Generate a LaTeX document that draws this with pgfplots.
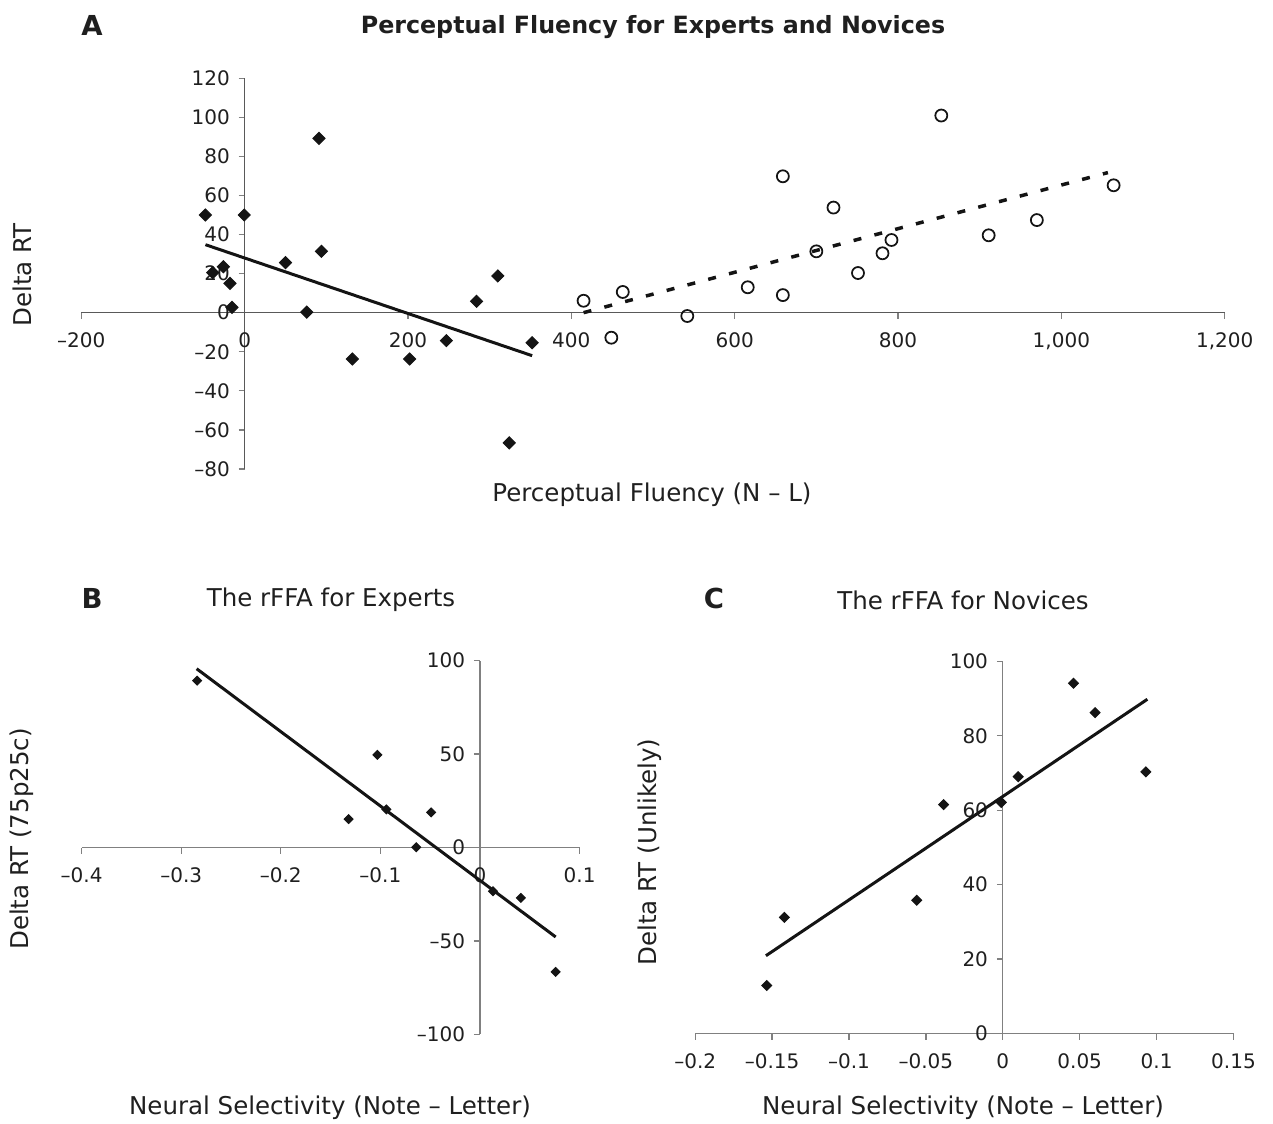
\documentclass[border=0pt]{standalone}
\usepackage{fontspec}
\setmainfont{DejaVu Sans}
\usepackage{pgfplots}
\pgfplotsset{compat=1.18}
\pgfplotsset{
  myaxis/.style={
    scale only axis, axis lines=middle,
    axis line style={-, draw=black!50, line width=0.5pt},
    enlargelimits=false, clip=false,
    tick align=outside, major tick length=2.4pt,
    tick style={draw=black!50, line width=0.5pt},
    hide obscured x ticks=false, hide obscured y ticks=false,
    tick label style={font=\fontsize{8}{9.6}\selectfont, text=black!88},
    xticklabel style={yshift=-2pt},
    anchor=south west,
  },
  expd/.style={only marks, mark=square*, mark size=#1,
    mark options={rotate=45, fill=black!92, draw=black!92}},
  trend/.style={no marks, black!92, line width=1.2pt},
}
\begin{document}
\begin{tikzpicture}[font=\fontsize{9.8}{11.8}\selectfont, text=black!88]
\path[use as bounding box] (0,0) rectangle (509.2pt,-449.6pt);

% ---------- Panel A ----------
\begin{axis}[myaxis, at={(32.52pt,-187.6pt)}, width=457.36pt, height=156.32pt,
  axis line style={-, draw=black!65, line width=0.5pt},
  xmin=-200, xmax=1200, ymin=-80, ymax=120,
  xtick={-200,0,200,400,600,800,1000,1200},
  xticklabels={–200,0,200,400,600,800,{1,000},{1,200}},
  ytick={-80,-60,-40,-20,0,20,40,60,80,100,120},
  yticklabels={–80,–60,–40,–20,0,20,40,60,80,100,120}]
\addplot[expd=1.7pt] coordinates {
(-48,50) (-39,20.5) (-26,23.5) (-18,15) (-15.5,2.7) (-0.5,50) (50,25.6)
(76,0.3) (91,89.2) (94,31.4) (132,-23.7) (202,-23.7) (247,-14.3) (284,5.8)
(310,18.8) (324,-66.6) (352,-15.4)};
\addplot[only marks, mark=o, mark size=2.4pt, mark options={draw=black!92, line width=0.7pt}] coordinates {
(415,6.1) (449,-12.8) (463,10.6) (542,-1.7) (616,13.0) (659,69.8) (659,9.0)
(700,31.4) (721,53.8) (751,20.3) (781,30.4) (792,37.2) (853,100.9) (911,39.6)
(970,47.4) (1064,65.2)};
\addplot[trend] coordinates {(-48,34.8) (352,-22.0)};
\addplot[trend, line width=1.4pt, dash pattern=on 3.2pt off 5.4pt] coordinates {(415,0) (1057,71.7)};
\end{axis}

% ---------- Panel B ----------
\begin{axis}[myaxis, at={(32.64pt,-413.72pt)}, width=199.2pt, height=149.44pt,
  xmin=-0.4, xmax=0.1, ymin=-100, ymax=100,
  xtick={-0.4,-0.3,-0.2,-0.1,0,0.1},
  xticklabels={–0.4,–0.3,–0.2,–0.1,0,0.1},
  ytick={-100,-50,0,50,100},
  yticklabels={–100,–50,0,50,100}]
\addplot[expd=1.25pt] coordinates {
(-0.284,89.3) (-0.132,15.2) (-0.103,49.6) (-0.094,20.4) (-0.064,0.2)
(-0.049,18.8) (0.013,-23.4) (0.041,-27.0) (0.076,-66.6)};
\addplot[trend] coordinates {(-0.2845,95.7) (0.076,-47.9)};
\end{axis}

% ---------- Panel C ----------
\begin{axis}[myaxis, at={(278.08pt,-413.4pt)}, width=215.32pt, height=148.88pt,
  xmin=-0.2, xmax=0.15, ymin=0, ymax=100,
  xtick={-0.2,-0.15,-0.1,-0.05,0,0.05,0.1,0.15},
  xticklabels={–0.2,–0.15,–0.1,–0.05,0,0.05,0.1,0.15},
  ytick={0,20,40,60,80,100},
  yticklabels={0,20,40,60,80,100}]
\addplot[expd=1.4pt] coordinates {
(-0.1535,12.9) (-0.142,31.2) (-0.056,35.8) (-0.0385,61.5) (-0.001,62.1)
(0.010,69.0) (0.046,94.1) (0.060,86.2) (0.093,70.3)};
\addplot[trend] coordinates {(-0.154,20.9) (0.094,89.8)};
\end{axis}

% ---------- Texts ----------
\node[font=\bfseries\fontsize{11}{13}\selectfont] at (36.8pt,-10pt) {A};
\node[font=\bfseries\fontsize{9.5}{11.4}\selectfont] at (261.2pt,-10.8pt) {Perceptual Fluency for Experts and Novices};
\node at (260.8pt,-198pt) {Perceptual Fluency (N – L)};
\node[rotate=90] at (8.8pt,-110pt) {Delta RT};

\node[font=\bfseries\fontsize{11}{13}\selectfont] at (36.8pt,-239.2pt) {B};
\node at (132.4pt,-240pt) {The rFFA for Experts};
\node[rotate=90] at (8.8pt,-335.6pt) {Delta RT (75p25c)};
\node at (132pt,-443.2pt) {Neural Selectivity (Note – Letter)};

\node[font=\bfseries\fontsize{11}{13}\selectfont] at (285.6pt,-239.2pt) {C};
\node at (385.2pt,-240pt) {The rFFA for Novices};
\node[rotate=90] at (260pt,-340.8pt) {Delta RT (Unlikely)};
\node at (385.2pt,-443.2pt) {Neural Selectivity (Note – Letter)};
\end{tikzpicture}
\end{document}
